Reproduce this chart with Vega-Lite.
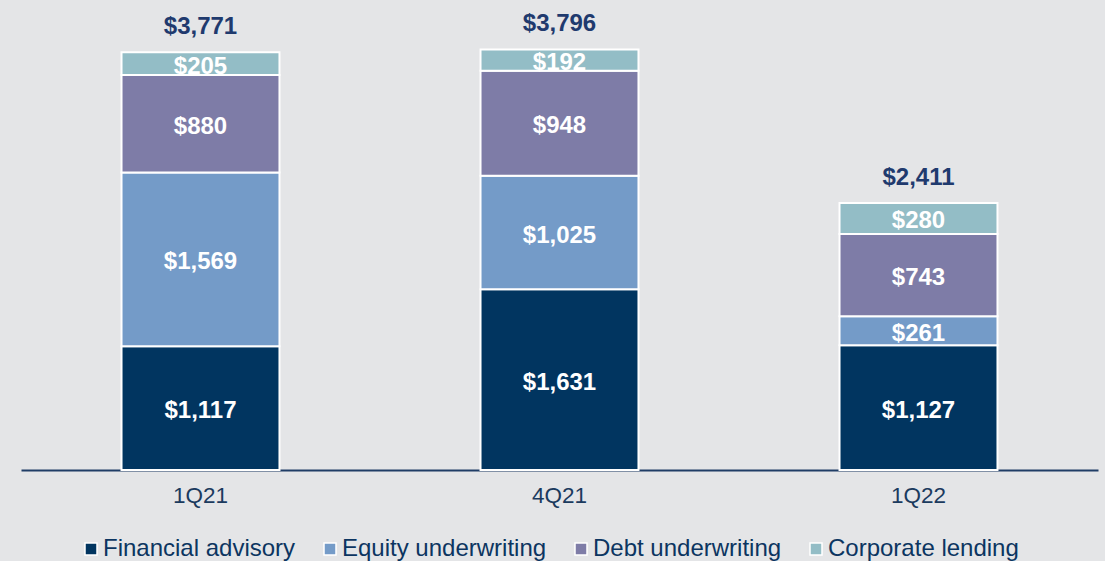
{
  "$schema": "https://vega.github.io/schema/vega-lite/v6.json",
  "width": 1077,
  "height": 460,
  "autosize": {"type": "none"},
  "padding": {"left": 21, "top": 10, "right": 7, "bottom": 91},
  "background": "#e4e5e7",
  "config": {
    "view": {"stroke": null},
    "font": "Liberation Sans"
  },
  "data": {
    "values": [
      {"quarter": "1Q21", "segment": "Financial advisory", "value": 1117},
      {"quarter": "1Q21", "segment": "Equity underwriting", "value": 1569},
      {"quarter": "1Q21", "segment": "Debt underwriting", "value": 880},
      {"quarter": "1Q21", "segment": "Corporate lending", "value": 205},
      {"quarter": "4Q21", "segment": "Financial advisory", "value": 1631},
      {"quarter": "4Q21", "segment": "Equity underwriting", "value": 1025},
      {"quarter": "4Q21", "segment": "Debt underwriting", "value": 948},
      {"quarter": "4Q21", "segment": "Corporate lending", "value": 192},
      {"quarter": "1Q22", "segment": "Financial advisory", "value": 1127},
      {"quarter": "1Q22", "segment": "Equity underwriting", "value": 261},
      {"quarter": "1Q22", "segment": "Debt underwriting", "value": 743},
      {"quarter": "1Q22", "segment": "Corporate lending", "value": 280}
    ]
  },
  "transform": [
    {"stack": "value", "groupby": ["quarter"], "sort": [{"field": "segment", "order": "descending"}], "as": ["v0", "v1"]},
    {"calculate": "(datum.v0 + datum.v1) / 2", "as": "mid"}
  ],
  "encoding": {
    "x": {
      "field": "quarter",
      "type": "nominal",
      "sort": ["1Q21", "4Q21", "1Q22"],
      "scale": {"paddingInner": 0.56, "paddingOuter": 0.28},
      "axis": {
        "title": null,
        "labelAngle": 0,
        "labelFontSize": 22.5,
        "labelColor": "#1b3a5e",
        "labelPadding": 14,
        "ticks": false,
        "domainColor": "#1f3d66",
        "domainWidth": 2,
        "grid": false
      }
    }
  },
  "layer": [
    {
      "mark": {"type": "bar", "stroke": "#ffffff", "strokeWidth": 2},
      "encoding": {
        "y": {"field": "v1", "type": "quantitative", "scale": {"domain": [0, 4152], "nice": false}, "axis": null},
        "y2": {"field": "v0"},
        "color": {
          "field": "segment",
          "type": "nominal",
          "sort": ["Financial advisory", "Equity underwriting", "Debt underwriting", "Corporate lending"],
          "scale": {
            "domain": ["Financial advisory", "Equity underwriting", "Debt underwriting", "Corporate lending"],
            "range": ["#013560", "#749bc8", "#7e7ca7", "#93bdc6"]
          },
          "legend": {
            "title": null,
            "orient": "none",
            "direction": "horizontal",
            "legendX": 58,
            "legendY": 527,
            "padding": 0,
            "columnPadding": 22,
            "symbolType": "square",
            "symbolSize": 144,
            "symbolStrokeColor": "#ffffff",
            "symbolStrokeWidth": 1.5,
            "symbolOpacity": 1,
            "labelOffset": 0,
            "labelFontSize": 24,
            "labelColor": "#0c3561",
            "labelLimit": 400
          }
        }
      }
    },
    {
      "mark": {"type": "text", "color": "#ffffff", "fontWeight": "bold", "fontSize": 24, "baseline": "middle", "dy": 3},
      "encoding": {
        "y": {"field": "mid", "type": "quantitative"},
        "text": {"field": "value", "type": "quantitative", "format": "$,.0f"}
      }
    },
    {
      "transform": [
        {"aggregate": [{"op": "sum", "field": "value", "as": "total"}], "groupby": ["quarter"]}
      ],
      "mark": {"type": "text", "color": "#1f3a6e", "fontWeight": "bold", "fontSize": 24, "baseline": "alphabetic", "dy": -18},
      "encoding": {
        "y": {"field": "total", "type": "quantitative"},
        "text": {"field": "total", "type": "quantitative", "format": "$,.0f"}
      }
    }
  ]
}
